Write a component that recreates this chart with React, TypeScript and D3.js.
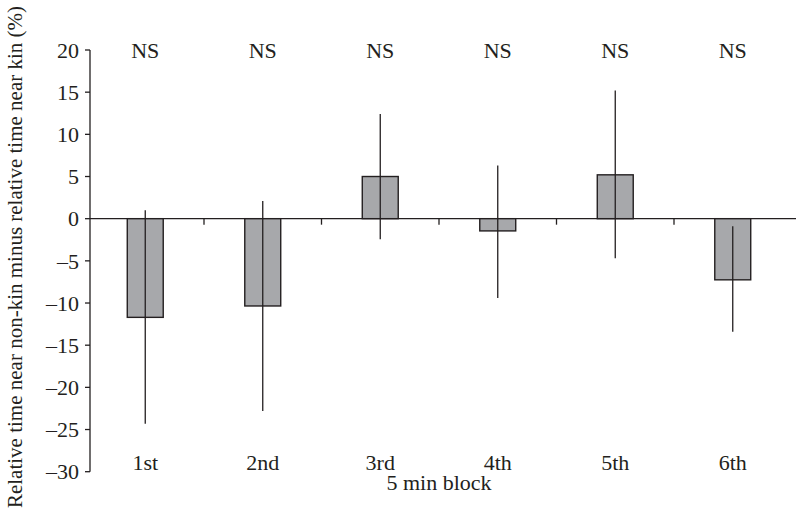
import React, { useEffect, useRef } from "react";
import * as d3 from "d3";

const blocks = ["1st", "2nd", "3rd", "4th", "5th", "6th"];
const means = [-11.7, -10.35, 5.0, -1.45, 5.2, -7.25];
const errUpper = [1.0, 2.1, 12.4, 6.3, 15.2, -0.9];
const errLower = [-24.3, -22.8, -2.45, -9.4, -4.7, -13.4];
const sigLabels = ["NS", "NS", "NS", "NS", "NS", "NS"];
const yTicks = [-30, -25, -20, -15, -10, -5, 0, 5, 10, 15, 20];

const App: React.FC = () => {
  const svgRef = useRef<SVGSVGElement | null>(null);

  useEffect(() => {
    const width = 796;
    const ink = "#231f20";
    const font = "'Liberation Serif', 'Times New Roman', serif";
    const fs = "22px";

    const svg = d3.select(svgRef.current);
    svg.selectAll("*").remove();

    const x = d3
      .scaleBand()
      .domain(blocks)
      .range([86.5, 791.5])
      .padding(0);
    const barW = x.bandwidth() * 0.306;

    const y = d3.scaleLinear().domain([-30, 20]).range([471.7, 50]);

    // y axis
    const gy = svg.append("g").attr("transform", "translate(90,0)");
    gy.append("line")
      .attr("y1", y(20))
      .attr("y2", y(-30))
      .attr("stroke", ink)
      .attr("stroke-width", 1.3);
    gy.selectAll(".tick")
      .data(yTicks)
      .enter()
      .append("line")
      .attr("x1", -5)
      .attr("x2", 0)
      .attr("y1", (d) => y(d))
      .attr("y2", (d) => y(d))
      .attr("stroke", ink)
      .attr("stroke-width", 1.3);
    gy.selectAll(".lbl")
      .data(yTicks)
      .enter()
      .append("text")
      .attr("x", -11)
      .attr("y", (d) => y(d))
      .attr("dy", "0.35em")
      .attr("text-anchor", "end")
      .style("font-family", font)
      .style("font-size", fs)
      .attr("fill", ink)
      .text((d) => (d < 0 ? "\u2013" + Math.abs(d) : String(d)));

    // x axis along zero
    svg
      .append("line")
      .attr("x1", 90)
      .attr("x2", width)
      .attr("y1", y(0))
      .attr("y2", y(0))
      .attr("stroke", ink)
      .attr("stroke-width", 1.3);
    svg
      .selectAll(".xtick")
      .data(blocks.slice(1))
      .enter()
      .append("line")
      .attr("x1", (d) => x(d) as number)
      .attr("x2", (d) => x(d) as number)
      .attr("y1", y(0))
      .attr("y2", y(0) + 6)
      .attr("stroke", ink)
      .attr("stroke-width", 1.3);

    const cx = (d: string) => (x(d) as number) + x.bandwidth() / 2;

    // bars
    svg
      .selectAll(".bar")
      .data(blocks)
      .enter()
      .append("rect")
      .attr("x", (d) => cx(d) - barW / 2)
      .attr("y", (_, i) => Math.min(y(means[i]), y(0)))
      .attr("width", barW)
      .attr("height", (_, i) => Math.abs(y(means[i]) - y(0)))
      .attr("fill", "#a7a8ab")
      .attr("stroke", ink)
      .attr("stroke-width", 1.4);

    // error lines
    svg
      .selectAll(".err")
      .data(blocks)
      .enter()
      .append("line")
      .attr("x1", (d) => cx(d))
      .attr("x2", (d) => cx(d))
      .attr("y1", (_, i) => y(errUpper[i]))
      .attr("y2", (_, i) => y(errLower[i]))
      .attr("stroke", ink)
      .attr("stroke-width", 1.3);

    // NS labels
    svg
      .selectAll(".ns")
      .data(blocks)
      .enter()
      .append("text")
      .attr("x", (d) => cx(d))
      .attr("y", y(20))
      .attr("dy", "0.35em")
      .attr("text-anchor", "middle")
      .style("font-family", font)
      .style("font-size", fs)
      .attr("fill", ink)
      .text((_, i) => sigLabels[i]);

    // category labels
    svg
      .selectAll(".cat")
      .data(blocks)
      .enter()
      .append("text")
      .attr("x", (d) => cx(d))
      .attr("y", 462)
      .attr("dy", "0.35em")
      .attr("text-anchor", "middle")
      .style("font-family", font)
      .style("font-size", fs)
      .attr("fill", ink)
      .text((d) => d);

    svg
      .append("text")
      .attr("x", 439)
      .attr("y", 490)
      .attr("text-anchor", "middle")
      .style("font-family", font)
      .style("font-size", fs)
      .attr("fill", ink)
      .text("5 min block");

    svg
      .append("text")
      .attr("transform", `translate(22,${257}) rotate(-90)`)
      .attr("text-anchor", "middle")
      .style("font-family", font)
      .style("font-size", "21px")
      .attr("fill", ink)
      .text("Relative time near non-kin minus relative time near kin (%)");
  }, []);

  return (
    <div style={{ position: "absolute", left: 0, top: 0 }}>
      <svg ref={svgRef} width={796} height={517} style={{ display: "block", background: "#fff" }}></svg>
    </div>
  );
};

export default App;
